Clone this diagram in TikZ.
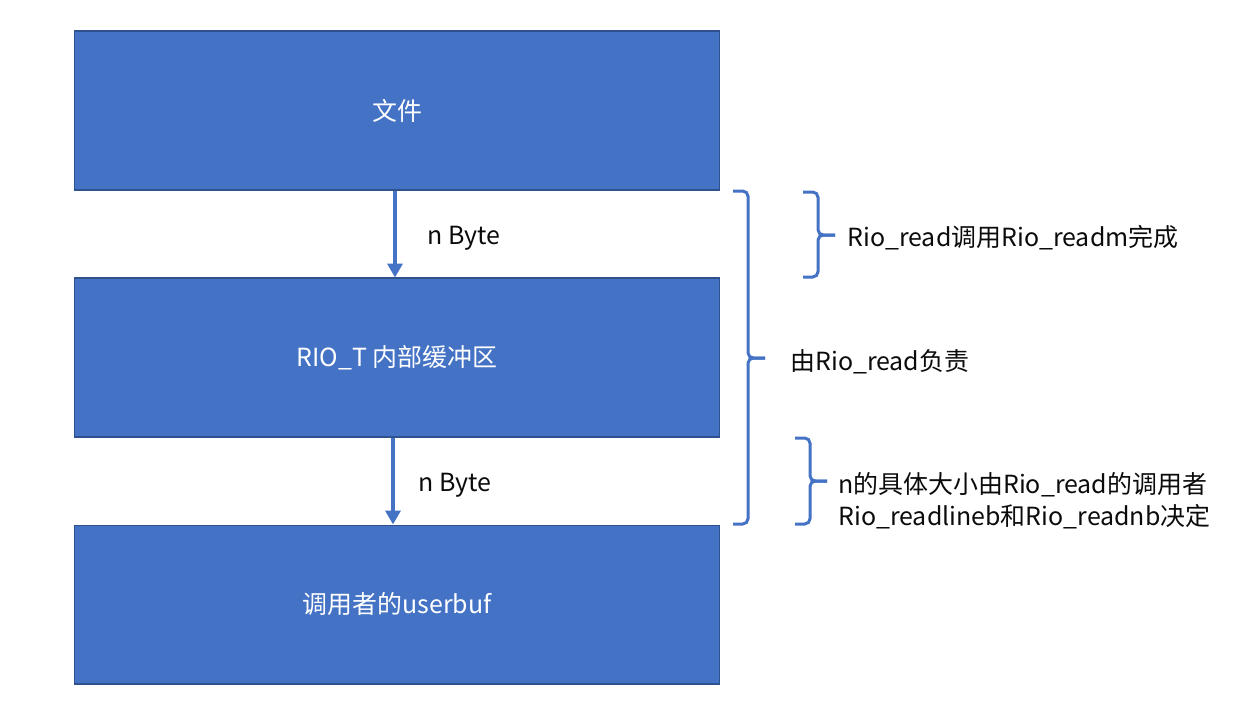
\documentclass[tikz,border=0pt]{standalone}
\usepackage{fontspec}
\setmainfont{Noto Sans CJK SC}
\usepackage{xcolor}
\usetikzlibrary{positioning,arrows.meta}
\definecolor{caja}{HTML}{4472C4}
\definecolor{borde}{HTML}{2F528F}
\definecolor{tinta}{HTML}{0B0B0B}

\begin{document}
\begin{tikzpicture}[
  x=0.02cm, y=-0.02cm,
  font=\fontsize{14.2}{18}\selectfont,
  bloque/.style={rectangle, draw=borde, line width=0.6pt, fill=caja, text=white,
    minimum width=12.92cm, minimum height=3.18cm, inner sep=0pt},
  flujo/.style={-{Triangle[length=0.28cm, width=0.3cm]}, caja, line width=2.2pt},
  llave/.style={caja, line width=1.7pt, rounded corners=3pt},
  nota/.style={anchor=west, text=tinta, inner sep=0pt, align=left}]
  \useasboundingbox (0,0) rectangle (1247,704);
  % bloques
  \node[bloque] (file) at (397,110.5) {文件};
  \node[bloque] (rio) at (397,357.5) {RIO\_T 内部缓冲区};
  \node[bloque] (buf) at (397,604.5) {调用者的userbuf};
  % flechas
  \draw[flujo] ([xshift=-0.04cm]file.south) -- ([xshift=-0.04cm]rio.north);
  \draw[flujo] ([xshift=-0.08cm]rio.south) -- ([xshift=-0.08cm]buf.north);
  \node[nota] (n1) at (427,238) {n Byte};
  \node[nota] (n2) at (418,485) {n Byte};
  % llave grande
  \coordinate (g1) at (733,191);
  \coordinate (g2) at (765,358);
  \coordinate (g3) at (733,524);
  \draw[llave] (g1) -- (748,191) -- (748,358) -- (g2);
  \draw[llave] (g2) -- (748,358) -- (748,524) -- (g3);
  % llaves chicas
  \coordinate (a1) at (803,192);
  \coordinate (a2) at (835,235);
  \coordinate (a3) at (803,277);
  \draw[llave] (a1) -- (818,192) -- (818,235) -- (a2);
  \draw[llave] (a2) -- (818,235) -- (818,277) -- (a3);
  \coordinate (b1) at (795,438);
  \coordinate (b2) at (827,481);
  \coordinate (b3) at (795,524);
  \draw[llave] (b1) -- (810,438) -- (810,481) -- (b2);
  \draw[llave] (b2) -- (810,481) -- (810,524) -- (b3);
  % notas
  \node[nota] (t1) at (847,238) {Rio\_read调用Rio\_readm完成};
  \node[nota] (t2) at (790,362) {由Rio\_read负责};
  \node[nota] (t3) at (838,501) {n的具体大小由Rio\_read的调用者\\Rio\_readlineb和Rio\_readnb决定};
\end{tikzpicture}
\end{document}
